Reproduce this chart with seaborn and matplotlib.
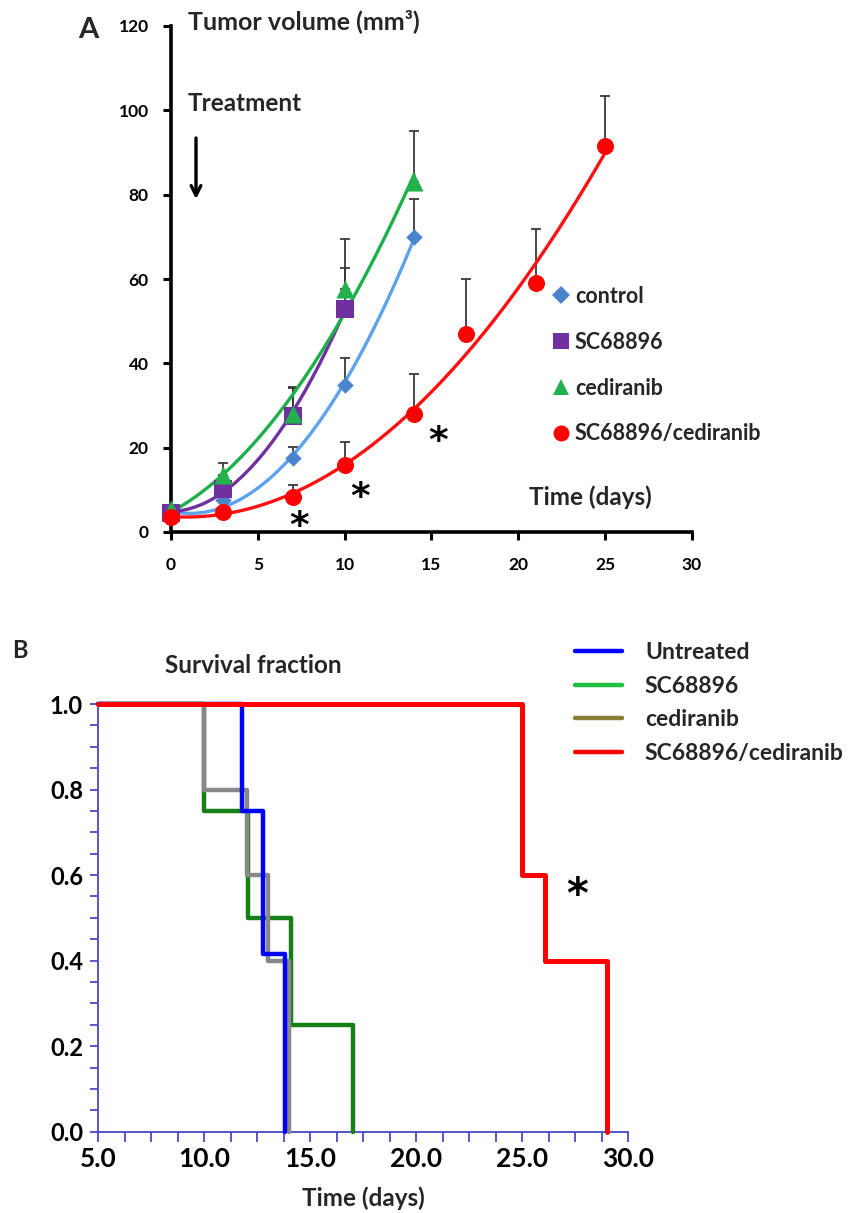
import numpy as np
import matplotlib
matplotlib.use("Agg")
import matplotlib.pyplot as plt
import matplotlib.transforms as mtransforms
from matplotlib.lines import Line2D
from matplotlib.ticker import MultipleLocator, FixedLocator
import seaborn as sns

# ---------------- Panel A data: tumor volume (mm3) ----------------
groups_A = ["control", "SC68896", "cediranib", "SC68896/cediranib"]
days_control = [0, 3, 7, 10, 14]
vol_control = [4.0, 7.6, 17.5, 34.8, 70.0]
err_control = [0.6, 1.0, 2.7, 6.5, 9.0]
days_sc = [0, 3, 7, 10]
vol_sc = [4.5, 10.3, 27.6, 52.8]
err_sc = [0.6, 1.5, 6.6, 9.8]
days_ced = [0, 3, 7, 10, 14]
vol_ced = [5.5, 13.5, 28.0, 57.6, 83.0]
err_ced = [0.6, 2.8, 6.5, 12.0, 12.0]
days_combo = [0, 3, 7, 10, 14, 17, 21, 25]
vol_combo = [3.5, 4.8, 8.4, 15.9, 28.1, 46.9, 59.0, 91.5]
err_combo = [0.4, 0.6, 2.7, 5.4, 9.3, 13.1, 12.8, 11.8]
xticks_A = [0, 5, 10, 15, 20, 25, 30]
yticks_A = [0, 20, 40, 60, 80, 100, 120]
star_days_A = [7.37, 10.9, 15.4]
star_vol_A = [4.8, 11.6, 25.0]

# ---------------- Panel B data: survival fraction ----------------
groups_B = ["Untreated", "SC68896", "cediranib", "SC68896/cediranib"]
t_untreated = [5.0, 11.8, 12.75, 13.8]
s_untreated = [1.0, 0.75, 0.415, 0.0]
t_sc = [5.0, 10.0, 12.05, 14.1, 17.0]
s_sc = [1.0, 0.75, 0.5, 0.25, 0.0]
t_ced = [5.0, 10.0, 12.0, 13.0, 14.0]
s_ced = [1.0, 0.8, 0.6, 0.4, 0.0]
t_combo = [5.0, 25.0, 26.05, 29.0]
s_combo = [1.0, 0.6, 0.4, 0.0]
xticks_B = [5.0, 10.0, 15.0, 20.0, 25.0, 30.0]
yticks_B = [0.0, 0.2, 0.4, 0.6, 0.8, 1.0]

# ---------------- style ----------------
sns.set_style("white")
plt.rcParams["font.family"] = ["Lato", "DejaVu Sans"]
plt.rcParams["font.weight"] = "bold"
plt.rcParams["axes.labelweight"] = "bold"

W, H = 853, 1213
fig = plt.figure(figsize=(W / 100, H / 100), dpi=100)


def fx(px):
    return px / W


def fy(py):
    return 1 - py / H


# ================= Panel A =================
ax1 = fig.add_axes([fx(171), fy(532), 521 / W, 506 / H])

series_A = [
    (days_control, vol_control, err_control, "D", 70, "#4a84cc", "#5ea2ec"),
    (days_sc, vol_sc, err_sc, "s", 150, "#7030a0", "#7030a0"),
    (days_ced, vol_ced, err_ced, "^", 170, "#22b14c", "#1db04a"),
    (days_combo, vol_combo, err_combo, "o", 150, "#ff0000", "#ff1010"),
]

for days, vol, err, mk, ms, mcol, lcol in series_A:
    d = np.asarray(days, float)
    v = np.asarray(vol, float)
    xs = np.linspace(d.min(), d.max(), 200)
    fit = np.polyval(np.polyfit(d, v, 2), xs)
    sns.lineplot(x=xs, y=fit, color=lcol, lw=2.4, ax=ax1, zorder=3)
    ax1.errorbar(d, v, yerr=[np.zeros_like(v), np.asarray(err)], fmt="none",
                 ecolor="#3a3a3a", elinewidth=1.3, capsize=3.5, capthick=1.3,
                 zorder=2)
    sns.scatterplot(x=d, y=v, marker=mk, s=ms, color=mcol, linewidth=0,
                    ax=ax1, zorder=4, clip_on=False)

ax1.set_xlim(0, 30)
ax1.set_ylim(0, 120)
ax1.set_xticks(xticks_A)
ax1.set_yticks(yticks_A)
ax1.set_xticklabels([str(v) for v in xticks_A], fontweight="bold")
ax1.set_yticklabels([str(v) for v in yticks_A], fontweight="bold")
for s in ["top", "right"]:
    ax1.spines[s].set_visible(False)
for s in ["left", "bottom"]:
    ax1.spines[s].set_linewidth(2.6)
    ax1.spines[s].set_color("black")
ax1.tick_params(axis="both", direction="out", length=6, width=2.2,
                labelsize=12.5, colors="black", bottom=True, left=True)
ax1.tick_params(axis="x", pad=12)
ax1.tick_params(axis="y", pad=10)
ax1.grid(False)

ax1.set_ylabel("Tumor volume (mm³)", rotation=0, ha="left", va="baseline",
               fontsize=18, fontweight="bold")
ax1.yaxis.set_label_coords((188 - 171) / 521, (532 - 29) / 506)
ax1.set_xlabel("Time (days)", ha="left", va="baseline", fontsize=17.5,
               fontweight="bold")
ax1.xaxis.set_label_coords((529 - 171) / 521, (532 - 505) / 506)

ax1.text(0.0325, (532 - 111) / 506, "Treatment", transform=ax1.transAxes,
         fontsize=17.5, fontweight="bold", ha="left", va="baseline")
ax1.annotate("", xy=(1.44, 78.3), xytext=(1.44, 94.1),
             arrowprops=dict(arrowstyle="->,head_length=0.7,head_width=0.35",
                             lw=2.4, color="black"))

star_tr = mtransforms.offset_copy(ax1.transData, fig=fig, x=0, y=-25,
                                  units="dots")
for xs_, ys_ in zip(star_days_A, star_vol_A):
    ax1.text(xs_, ys_, "*", transform=star_tr, fontsize=27, ha="center",
             va="baseline", fontweight="bold", color="black",
             family=["DejaVu Sans"])

handles_A = [Line2D([], [], ls="none", marker=mk, color=mcol,
                    markersize=(9 if mk == "D" else 11.5), markeredgewidth=0)
             for _, _, _, mk, _, mcol, _ in series_A]
ax1.legend(handles_A, groups_A, loc="upper left",
           bbox_to_anchor=(fx(554.5), fy(286)), bbox_transform=fig.transFigure,
           frameon=False, handlelength=0.6, handletextpad=0.35,
           labelspacing=1.15, borderpad=0, borderaxespad=0,
           prop={"weight": "bold", "size": 15.5})

fig.text(fx(78), fy(38), "A", fontsize=21, fontweight="bold", ha="left",
         va="baseline")

# ================= Panel B =================
ax2 = fig.add_axes([fx(98.3), fy(1131.7), 530 / W, 427.7 / H])
axis_blue = "#4a4ac8"

series_B = [
    (t_sc, s_sc, "#167f16", 3.2),
    (t_ced, s_ced, "#888888", 3.2),
    (t_untreated, s_untreated, "#0000ff", 3.2),
    (t_combo, s_combo, "#ff0000", 3.6),
]
for t, s, c, lw in series_B:
    sns.lineplot(x=t, y=s, drawstyle="steps-post", color=c, lw=lw,
                 estimator=None, ax=ax2, clip_on=False, zorder=3)

ax2.set_xlim(5, 30)
ax2.set_ylim(0, 1)
ax2.xaxis.set_major_locator(FixedLocator(xticks_B))
ax2.yaxis.set_major_locator(FixedLocator(yticks_B))
ax2.set_xticklabels([f"{v:.1f}" for v in xticks_B], fontweight="bold")
ax2.set_yticklabels([f"{v:.1f}" for v in yticks_B], fontweight="bold")
ax2.xaxis.set_minor_locator(MultipleLocator(1.25))
ax2.yaxis.set_minor_locator(MultipleLocator(0.05))
for s in ["top", "right"]:
    ax2.spines[s].set_visible(False)
for s in ["left", "bottom"]:
    ax2.spines[s].set_linewidth(1.3)
    ax2.spines[s].set_color(axis_blue)
ax2.tick_params(axis="x", which="both", direction="out", length=7, width=1.3,
                color=axis_blue, labelcolor="black", labelsize=19, pad=4,
                bottom=True)
ax2.tick_params(axis="y", which="both", direction="out", length=6, width=1.3,
                color=axis_blue, labelcolor="black", labelsize=17, pad=5,
                left=True)
ax2.grid(False)

ax2.set_xlabel("Time (days)", fontsize=17.5, fontweight="bold", va="top")
ax2.xaxis.set_label_coords(0.5, -(1186 - 1131.7) / 427.7)
ax2.set_ylabel("Survival fraction", rotation=0, ha="left", va="baseline",
               fontsize=17.5, fontweight="bold")
ax2.yaxis.set_label_coords((165 - 98.3) / 530, (1131.7 - 672.7) / 427.7)

star_tr2 = mtransforms.offset_copy(ax2.transData, fig=fig, x=0, y=-27,
                                   units="dots")
ax2.text(27.6, 0.585, "*", transform=star_tr2, fontsize=30, ha="center",
         va="baseline", fontweight="bold", color="black",
         family=["DejaVu Sans"])

legend_cols_B = ["#0000ff", "#1fbf3f", "#8b7d3a", "#ff0000"]
handles_B = [Line2D([], [], color=c, lw=3.2) for c in legend_cols_B]
ax2.legend(handles_B, groups_B, loc="upper left",
           bbox_to_anchor=(fx(575), fy(642)), bbox_transform=fig.transFigure,
           frameon=False, handlelength=2.05, handletextpad=1.0,
           labelspacing=0.55, borderpad=0, borderaxespad=0,
           prop={"weight": "bold", "size": 16.5})

fig.text(fx(12), fy(658), "B", fontsize=17, fontweight="bold", ha="left",
         va="baseline")

fig.savefig("out.png", dpi=100)
